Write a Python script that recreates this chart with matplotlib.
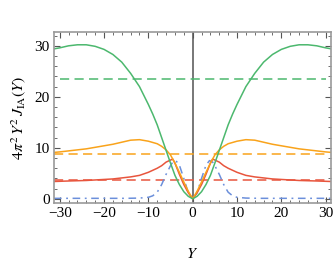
import matplotlib
matplotlib.use("Agg")
import matplotlib.pyplot as plt
from matplotlib.ticker import MultipleLocator

# values (curves are symmetric in Y)
y_green = [-31.3, -30, -28, -26, -24, -22, -20, -18, -16, -14, -12, -10, -9, -8, -7, -6, -5, -4, -3, -2, -1, 0,
           1, 2, 3, 4, 5, 6, 7, 8, 9, 10, 12, 14, 16, 18, 20, 22, 24, 26, 28, 30, 31.3]
v_green = [29.4, 29.6, 30.0, 30.2, 30.2, 29.9, 29.3, 28.3, 26.8, 24.6, 22.0, 18.5, 16.6, 14.5, 12.0, 9.5, 7.0, 4.6, 2.8, 1.4, 0.5, 0.0,
           0.5, 1.4, 2.8, 4.6, 7.0, 9.5, 12.0, 14.5, 16.6, 18.5, 22.0, 24.6, 26.8, 28.3, 29.3, 29.9, 30.2, 30.2, 30.0, 29.6, 29.4]

y_orange = [-31.3, -30, -28, -26, -24, -22, -20, -18, -16, -14, -12, -10, -8, -7, -6, -5, -4, -3, -2, -1, 0,
            1, 2, 3, 4, 5, 6, 7, 8, 10, 12, 14, 16, 18, 20, 22, 24, 26, 28, 30, 31.3]
v_orange = [9.1, 9.2, 9.4, 9.6, 9.8, 10.1, 10.4, 10.7, 11.1, 11.5, 11.6, 11.3, 10.8, 10.3, 9.6, 8.6, 7.0, 5.2, 3.3, 1.5, 0.0,
            1.5, 3.3, 5.2, 7.0, 8.6, 9.6, 10.3, 10.8, 11.3, 11.6, 11.5, 11.1, 10.7, 10.4, 10.1, 9.8, 9.6, 9.4, 9.2, 9.1]

y_red = [-31.3, -28, -24, -20, -18, -16, -14, -12, -10, -9, -8, -7, -6, -5, -4.5, -4, -3, -2, -1, 0,
         1, 2, 3, 4, 4.5, 5, 6, 7, 8, 9, 10, 12, 14, 16, 18, 20, 24, 28, 31.3]
v_red = [3.4, 3.5, 3.6, 3.8, 3.9, 4.1, 4.3, 4.6, 5.2, 5.6, 6.0, 6.5, 7.2, 7.6, 7.8, 7.0, 4.8, 2.8, 1.2, 0.0,
         1.2, 2.8, 4.8, 7.0, 7.8, 7.6, 7.2, 6.5, 6.0, 5.6, 5.2, 4.6, 4.3, 4.1, 3.9, 3.8, 3.6, 3.5, 3.4]

y_blue = [-31.3, -25, -20, -15, -12, -10, -9, -8, -7, -6, -5, -4.5, -3.8, -3, -2, -1, 0,
          1, 2, 3, 3.8, 4.5, 5, 6, 7, 8, 9, 10, 12, 15, 20, 25, 31.3]
v_blue = [0.1, 0.1, 0.1, 0.1, 0.15, 0.3, 0.6, 1.3, 2.8, 4.8, 6.5, 7.2, 7.5, 6.6, 4.0, 1.2, 0.0,
          1.2, 4.0, 6.6, 7.5, 7.2, 6.5, 4.8, 2.8, 1.3, 0.6, 0.3, 0.15, 0.1, 0.1, 0.1, 0.1]

levels = {"green": 23.5, "orange": 8.8, "red": 3.6}

c_green = "#4cb86e"
c_orange = "#f9a31b"
c_red = "#e8553d"
c_blue = "#6b8fdb"

plt.rcParams["mathtext.fontset"] = "stix"
plt.rcParams["font.family"] = "Liberation Serif"

fig = plt.figure(figsize=(3.35, 2.67), dpi=100)
ax = fig.add_axes([0.161, 0.240, 0.827, 0.640])

lw = 1.1
ax.axvline(0, color="#777777", lw=1.4, zorder=1)
ax.hlines(levels["green"], -30, 30, color=c_green, lw=lw, linestyles=(0, (6, 3.5)))
ax.hlines(levels["orange"], -31.3, 30.4, color=c_orange, lw=lw, linestyles=(0, (6, 3.5)))
ax.hlines(levels["red"], -31.3, 30.4, color=c_red, lw=lw, linestyles=(0, (6, 3.5)))
ax.plot(y_blue, v_blue, color=c_blue, lw=lw, dashes=(5, 3, 1.2, 3))
ax.plot(y_red, v_red, color=c_red, lw=lw)
ax.plot(y_orange, v_orange, color=c_orange, lw=lw)
ax.plot(y_green, v_green, color=c_green, lw=lw)

ax.set_xlim(-31.3, 31.2)
ax.set_ylim(-0.8, 32.7)
ax.xaxis.set_major_locator(MultipleLocator(10))
ax.xaxis.set_minor_locator(MultipleLocator(2))
ax.yaxis.set_major_locator(MultipleLocator(10))
ax.yaxis.set_minor_locator(MultipleLocator(2))
ax.tick_params(which="both", direction="in", top=True, right=True, color="#555555",
               labelsize=11, pad=3)
ax.tick_params(which="major", length=4.5, width=0.8)
ax.tick_params(which="minor", length=2.5, width=0.6)
for s in ax.spines.values():
    s.set_color("#9a9a9a")
    s.set_linewidth(1.2)

ax.set_xlabel(r"$Y$", fontsize=11.5, labelpad=19)
ax.set_ylabel(r"$4\pi^2\, Y^2\, J_{\mathrm{IA}}(Y)$", fontsize=11.5, labelpad=5)

fig.savefig("out.png", dpi=100)
